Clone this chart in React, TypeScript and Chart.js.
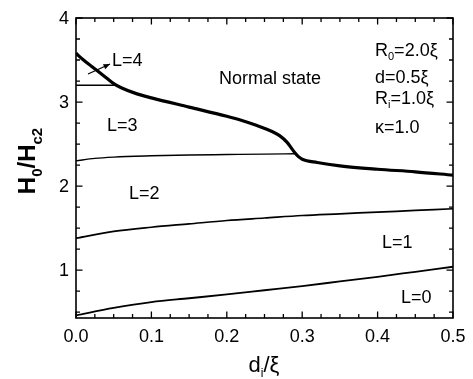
import React, { useEffect, useRef } from "react";
import { Chart, registerables } from "chart.js";
Chart.register(...registerables);

// ---- data ----
const xL0 = [0, 0.05, 0.1, 0.15, 0.2, 0.25, 0.3, 0.35, 0.4, 0.45, 0.5];
const yL0 = [0.46, 0.55, 0.62, 0.665, 0.71, 0.76, 0.81, 0.865, 0.92, 0.98, 1.04];

const xL1 = [0, 0.05, 0.1, 0.15, 0.2, 0.25, 0.3, 0.35, 0.4, 0.45, 0.5];
const yL1 = [1.38, 1.46, 1.51, 1.55, 1.59, 1.62, 1.65, 1.67, 1.69, 1.71, 1.73];

const xL23 = [0, 0.025, 0.05, 0.1, 0.15, 0.2, 0.25, 0.29];
const yL23 = [2.3, 2.33, 2.345, 2.36, 2.37, 2.375, 2.38, 2.385];

const xL34 = [0, 0.052];
const yL34 = [3.2, 3.2];

const xNormal = [0, 0.01, 0.02, 0.03, 0.04, 0.05, 0.06, 0.08, 0.1, 0.15, 0.2, 0.22, 0.24, 0.26, 0.27, 0.28, 0.285, 0.29, 0.295, 0.3, 0.32, 0.35, 0.4, 0.45, 0.5];
const yNormal = [3.58, 3.5, 3.43, 3.36, 3.29, 3.22, 3.17, 3.1, 3.05, 2.94, 2.83, 2.78, 2.72, 2.65, 2.6, 2.52, 2.46, 2.4, 2.35, 2.32, 2.28, 2.24, 2.2, 2.17, 2.13];

const xTickValues = [0, 0.1, 0.2, 0.3, 0.4, 0.5];
const xTickLabels = ["0.0", "0.1", "0.2", "0.3", "0.4", "0.5"];
const yTickValues = [1, 2, 3, 4];
const yTickLabels = ["1", "2", "3", "4"];

const X_MIN = 0, X_MAX = 0.5, Y_MIN = 0.43, Y_MAX = 4;

const pts = (xs: number[], ys: number[]) => xs.map((x, i) => ({ x, y: ys[i] }));

const FONT = '"Liberation Sans", Arial, Helvetica, sans-serif';

type Part = { t: string; sub?: boolean };

function drawRich(ctx: CanvasRenderingContext2D, parts: Part[], x: number, y: number, size: number, subSize: number, subOff: number, weight: string, align: "left" | "center") {
  const widths = parts.map((p) => {
    ctx.font = `${weight} ${p.sub ? subSize : size}px ${FONT}`;
    return ctx.measureText(p.t).width;
  });
  const total = widths.reduce((a, b) => a + b, 0);
  let cx = align === "center" ? x - total / 2 : x;
  ctx.textAlign = "left";
  ctx.textBaseline = "alphabetic";
  parts.forEach((p, i) => {
    ctx.font = `${weight} ${p.sub ? subSize : size}px ${FONT}`;
    ctx.fillText(p.t, cx, y + (p.sub ? subOff : 0));
    cx += widths[i];
  });
}

const decorPlugin = {
  id: "decor",
  afterDraw(chart: any) {
    const ctx: CanvasRenderingContext2D = chart.ctx;
    const xs = chart.scales.x;
    const ys = chart.scales.y;
    const { left, right, top, bottom } = chart.chartArea;
    ctx.save();
    ctx.strokeStyle = "#000";
    ctx.fillStyle = "#000";
    ctx.lineWidth = 1.6;
    ctx.strokeRect(left, top, right - left, bottom - top);

    ctx.lineWidth = 1.3;
    // x ticks
    for (let k = 0; k <= 20; k++) {
      const v = k * 0.025;
      const px = xs.getPixelForValue(v);
      const major = k % 4 === 0;
      const len = major ? 6.5 : 4;
      ctx.beginPath();
      ctx.moveTo(px, bottom);
      ctx.lineTo(px, bottom - len);
      ctx.moveTo(px, top);
      ctx.lineTo(px, top + len);
      ctx.stroke();
    }
    // y ticks
    for (let k = 2; k <= 16; k++) {
      const v = k * 0.25;
      const py = ys.getPixelForValue(v);
      const major = k % 4 === 0;
      const len = major ? 6.5 : 4;
      ctx.beginPath();
      ctx.moveTo(left, py);
      ctx.lineTo(left + len, py);
      ctx.moveTo(right, py);
      ctx.lineTo(right - len, py);
      ctx.stroke();
    }

    // tick labels
    ctx.font = `18px ${FONT}`;
    ctx.textAlign = "center";
    ctx.textBaseline = "middle";
    xTickValues.forEach((v, i) => {
      ctx.fillText(xTickLabels[i], xs.getPixelForValue(v), bottom + 19);
    });
    ctx.textAlign = "right";
    yTickValues.forEach((v, i) => {
      ctx.fillText(yTickLabels[i], left - 7, ys.getPixelForValue(v) + 1);
    });

    // x title
    drawRich(ctx, [{ t: "d" }, { t: "i", sub: true }, { t: "/ξ" }], 264, 372, 22, 12, 5, "normal", "center");

    // y title
    ctx.save();
    ctx.translate(35, 161);
    ctx.rotate(-Math.PI / 2);
    drawRich(ctx, [{ t: "H" }, { t: "0", sub: true }, { t: "/H" }, { t: "c2", sub: true }], 0, 0, 24, 15, 7, "bold", "center");
    ctx.restore();

    // annotations
    ctx.font = `18px ${FONT}`;
    ctx.textAlign = "left";
    ctx.textBaseline = "middle";
    ctx.fillText("Normal state", 219, 79);
    ctx.fillText("L=4", 112, 61);
    ctx.fillText("L=3", 107, 126);
    ctx.fillText("L=2", 129, 194);
    ctx.fillText("L=1", 382, 243);
    ctx.fillText("L=0", 401, 298);

    drawRich(ctx, [{ t: "R" }, { t: "0", sub: true }, { t: "=2.0ξ" }], 375, 56, 18, 11, 4, "normal", "left");
    drawRich(ctx, [{ t: "d=0.5ξ" }], 375, 83, 18, 11, 4, "normal", "left");
    drawRich(ctx, [{ t: "R" }, { t: "i", sub: true }, { t: "=1.0ξ" }], 375, 104, 18, 11, 4, "normal", "left");
    drawRich(ctx, [{ t: "κ=1.0" }], 375, 133, 18, 11, 4, "normal", "left");

    // arrow to L=4 region
    const ax0 = 88, ay0 = 74, ax1 = 110, ay1 = 64;
    ctx.lineWidth = 1.3;
    ctx.beginPath();
    ctx.moveTo(ax0, ay0);
    ctx.lineTo(ax1, ay1);
    ctx.stroke();
    const ang = Math.atan2(ay1 - ay0, ax1 - ax0);
    ctx.beginPath();
    ctx.moveTo(ax1, ay1);
    ctx.lineTo(ax1 - 7 * Math.cos(ang - 0.4), ay1 - 7 * Math.sin(ang - 0.4));
    ctx.lineTo(ax1 - 7 * Math.cos(ang + 0.4), ay1 - 7 * Math.sin(ang + 0.4));
    ctx.closePath();
    ctx.fill();

    ctx.restore();
  },
};

export default function App() {
  const ref = useRef<HTMLCanvasElement>(null);
  useEffect(() => {
    if (!ref.current) return;
    const mk = (xs: number[], ys: number[], w: number) => ({
      data: pts(xs, ys),
      borderColor: "#000",
      borderWidth: w,
      pointRadius: 0,
      fill: false,
      cubicInterpolationMode: "monotone" as const,
    });
    const chart = new Chart(ref.current, {
      type: "line",
      data: {
        datasets: [
          mk(xL0, yL0, 1.8),
          mk(xL1, yL1, 1.7),
          mk(xL23, yL23, 1.4),
          mk(xL34, yL34, 1.4),
          mk(xNormal, yNormal, 3.2),
        ],
      },
      options: {
        animation: false,
        responsive: false,
        layout: { padding: { left: 76, right: 20, top: 18, bottom: 61 } },
        plugins: { legend: { display: false }, tooltip: { enabled: false } },
        scales: {
          x: { type: "linear", min: X_MIN, max: X_MAX, display: false },
          y: { type: "linear", min: Y_MIN, max: Y_MAX, display: false },
        },
      },
      plugins: [decorPlugin],
    });
    return () => chart.destroy();
  }, []);
  return (
    <div style={{ position: "absolute", left: 0, top: 0, width: 473, height: 379, background: "#fff" }}>
      <canvas ref={ref} width={473} height={379} />
    </div>
  );
}
